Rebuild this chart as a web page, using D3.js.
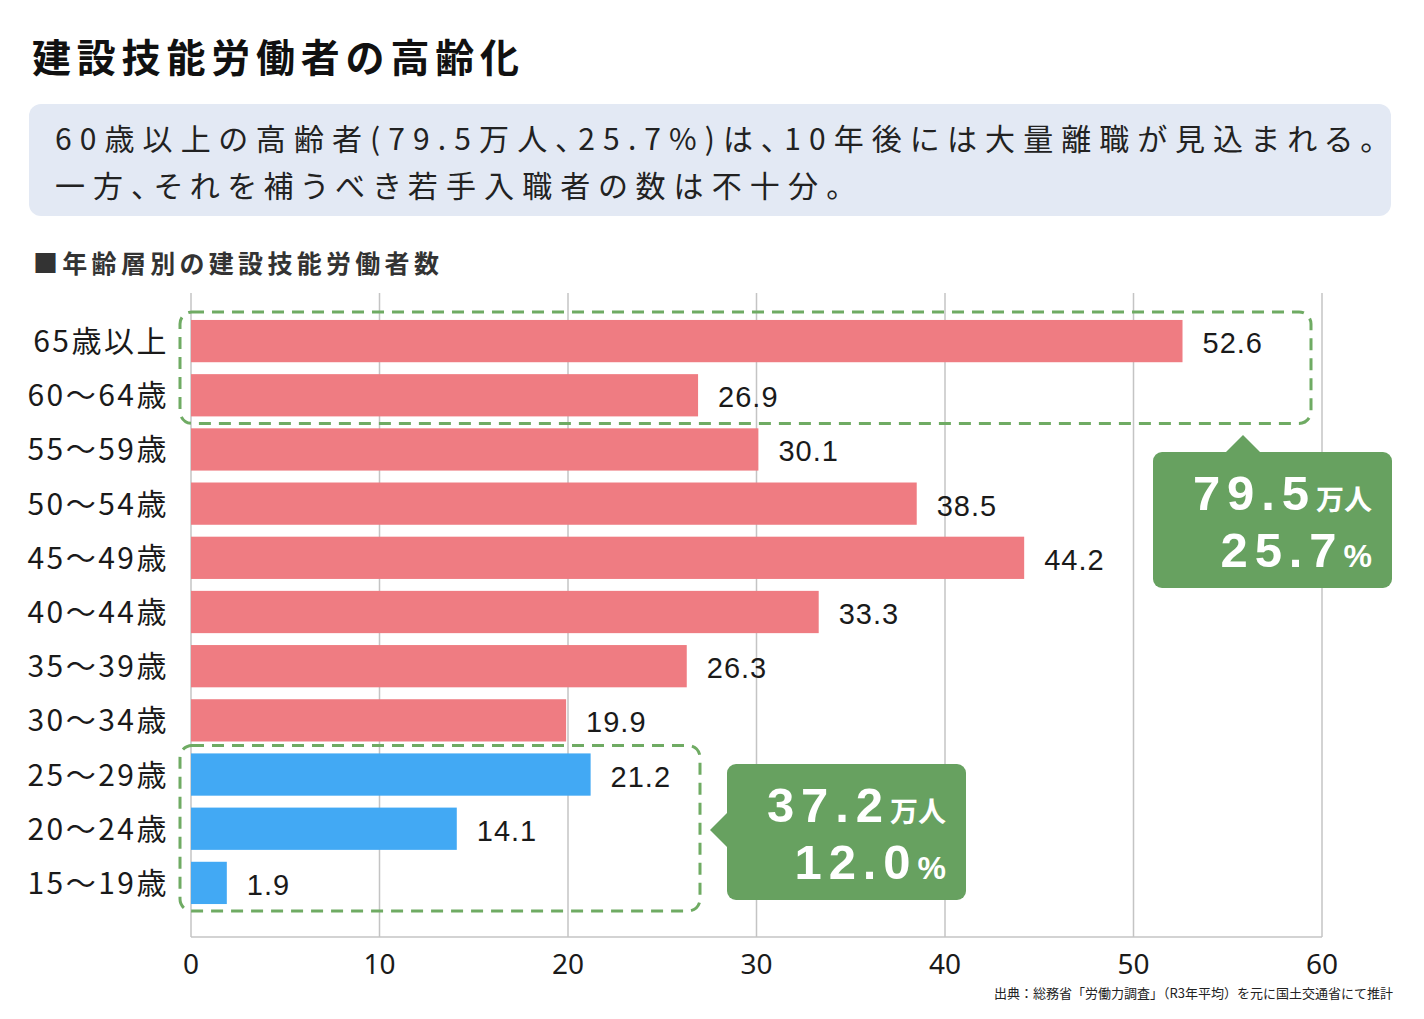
<!DOCTYPE html>
<html><head><meta charset="utf-8">
<script src="https://cdn.jsdelivr.net/npm/d3@7/dist/d3.min.js"></script>
<style>body{margin:0;background:#fff}svg{display:block}.palt{font-feature-settings:"palt" 1}</style>
</head><body>
<svg id="c" width="1424" height="1019"></svg>
<script>
const categories = ["65歳以上","60～64歳","55～59歳","50～54歳","45～49歳","40～44歳","35～39歳","30～34歳","25～29歳","20～24歳","15～19歳"];
const values = [52.6, 26.9, 30.1, 38.5, 44.2, 33.3, 26.3, 19.9, 21.2, 14.1, 1.9];
const groups = ["old","old","mid","mid","mid","mid","mid","mid","young","young","young"];
const tickValues = [0,10,20,30,40,50,60];
const titleText = "建設技能労働者の高齢化";
const summaryLines = ["60歳以上の高齢者(79.5万人、25.7%)は、10年後には大量離職が見込まれる。","一方、それを補うべき若手入職者の数は不十分。"];
const sectionText = "■年齢層別の建設技能労働者数";
const sourceText = "出典：総務省「労働力調査」（R3年平均）を元に国土交通省にて推計";
const calloutOld = {num:"79.5", unit:"万人", pct:"25.7", pctUnit:"%"};
const calloutYoung = {num:"37.2", unit:"万人", pct:"12.0", pctUnit:"%"};

const svg = d3.select("#c");
const JP = "'Noto Sans CJK JP','Noto Sans',sans-serif";
const LS = "'Liberation Sans',Arial,sans-serif";
const pink = "#ef7c82", blue = "#42a9f4", green = "#67a160", dashGreen = "#6fab63";

// title
svg.append("text").attr("x",32).attr("y",72).attr("font-family",JP).attr("font-weight",700)
  .attr("font-size",39).attr("letter-spacing",5.8).attr("fill","#111").text(titleText);

// summary box
svg.append("rect").attr("x",29).attr("y",104).attr("width",1362).attr("height",112).attr("rx",12).attr("fill","#e3e9f4");
svg.append("text").attr("class","palt").attr("x",55).attr("y",150).attr("font-family",JP).attr("font-size",30).attr("fill","#222")
  .attr("textLength",1320).attr("lengthAdjust","spacing").text(summaryLines[0]);
svg.append("text").attr("class","palt").attr("x",55).attr("y",197).attr("font-family",JP).attr("font-size",30).attr("fill","#222")
  .attr("textLength",786).attr("lengthAdjust","spacing").text(summaryLines[1]);

// section header
svg.append("text").attr("x",33).attr("y",273).attr("font-family",JP).attr("font-weight",700)
  .attr("font-size",25).attr("letter-spacing",4.3).attr("fill","#333").text(sectionText);

// scales
const x = d3.scaleLinear().domain([0,60]).range([191,1322]);
const y = d3.scaleBand().domain(categories).range([314,910]).paddingInner(0.22).paddingOuter(0.11);
const plotTop = 293, plotBottom = 937;

// gridlines
svg.append("g").selectAll("line").data(tickValues).join("line")
  .attr("x1",d=>x(d)).attr("x2",d=>x(d)).attr("y1",plotTop).attr("y2",plotBottom)
  .attr("stroke","#c4c4c4").attr("stroke-width",1.5);
svg.append("line").attr("x1",x(0)).attr("x2",x(60)).attr("y1",plotBottom).attr("y2",plotBottom).attr("stroke","#c4c4c4").attr("stroke-width",1.5);

// bars
svg.append("g").selectAll("rect").data(values).join("rect")
  .attr("x",x(0)).attr("y",(d,i)=>y(categories[i])).attr("width",d=>x(d)-x(0)).attr("height",y.bandwidth())
  .attr("fill",(d,i)=>groups[i]==="young"?blue:pink);

// value labels
svg.append("g").selectAll("text").data(values).join("text")
  .attr("x",d=>x(d)+20).attr("y",(d,i)=>y(categories[i])+y.bandwidth()/2+12)
  .attr("font-family",LS).attr("font-size",29).attr("letter-spacing",1).attr("fill","#1a1a1a")
  .text(d=>d.toFixed(1));

// category labels
svg.append("g").selectAll("text").data(categories).join("text")
  .attr("x",169).attr("y",d=>y(d)+y.bandwidth()/2+11).attr("text-anchor","end")
  .attr("font-family",JP).attr("font-size",30).attr("letter-spacing",2.5).attr("fill","#1a1a1a").text(d=>d);

// tick labels
svg.append("g").selectAll("text").data(tickValues).join("text")
  .attr("x",d=>x(d)).attr("y",974).attr("text-anchor","middle")
  .attr("font-family","'Noto Sans',sans-serif").attr("font-size",28).attr("fill","#1a1a1a").text(d=>d);

// dashed boxes
svg.append("rect").attr("x",180).attr("y",y(categories[0])-8).attr("width",1311-180)
  .attr("height",(y(categories[1])+y.bandwidth()+7)-(y(categories[0])-8)).attr("rx",12)
  .attr("fill","none").attr("stroke",dashGreen).attr("stroke-width",3).attr("stroke-dasharray","12,8");
svg.append("rect").attr("x",180).attr("y",y(categories[8])-8).attr("width",700-180)
  .attr("height",(y(categories[10])+y.bandwidth()+7)-(y(categories[8])-8)).attr("rx",12)
  .attr("fill","none").attr("stroke",dashGreen).attr("stroke-width",3).attr("stroke-dasharray","12,8");

// callouts
function callout(bx,by,w,h,pointer,c){
  const g = svg.append("g");
  g.append("rect").attr("x",bx).attr("y",by).attr("width",w).attr("height",h).attr("rx",9).attr("fill",green);
  g.append("path").attr("d",d3.line()(pointer)).attr("fill",green);
  const rx = bx+w-20;
  const rows = [[c.num,c.unit,JP,28,by+58],[c.pct,c.pctUnit,LS,32,by+115]];
  rows.forEach(([n,u,uf,us,yy])=>{
    const ut = g.append("text").attr("x",rx).attr("y",yy).attr("text-anchor","end").attr("fill","#fff")
      .attr("font-family",uf).attr("font-weight",700).attr("font-size",us).text(u);
    const uw = ut.node().getComputedTextLength();
    g.append("text").attr("x",rx-uw-7).attr("y",yy).attr("text-anchor","end").attr("fill","#fff")
      .attr("font-family",LS).attr("font-weight",700).attr("font-size",49)
      .attr("textLength",116).attr("lengthAdjust","spacing").text(n);
  });
}
callout(1153,452,239,136,[[1225,453],[1243,435],[1261,453]],calloutOld);
callout(727,764,239,136,[[728,812],[710,830],[728,848]],calloutYoung);

// source
svg.append("text").attr("x",1393).attr("y",998).attr("text-anchor","end").attr("font-family",JP)
  .attr("font-size",13).attr("fill","#222").text(sourceText);
</script>
</body></html>
